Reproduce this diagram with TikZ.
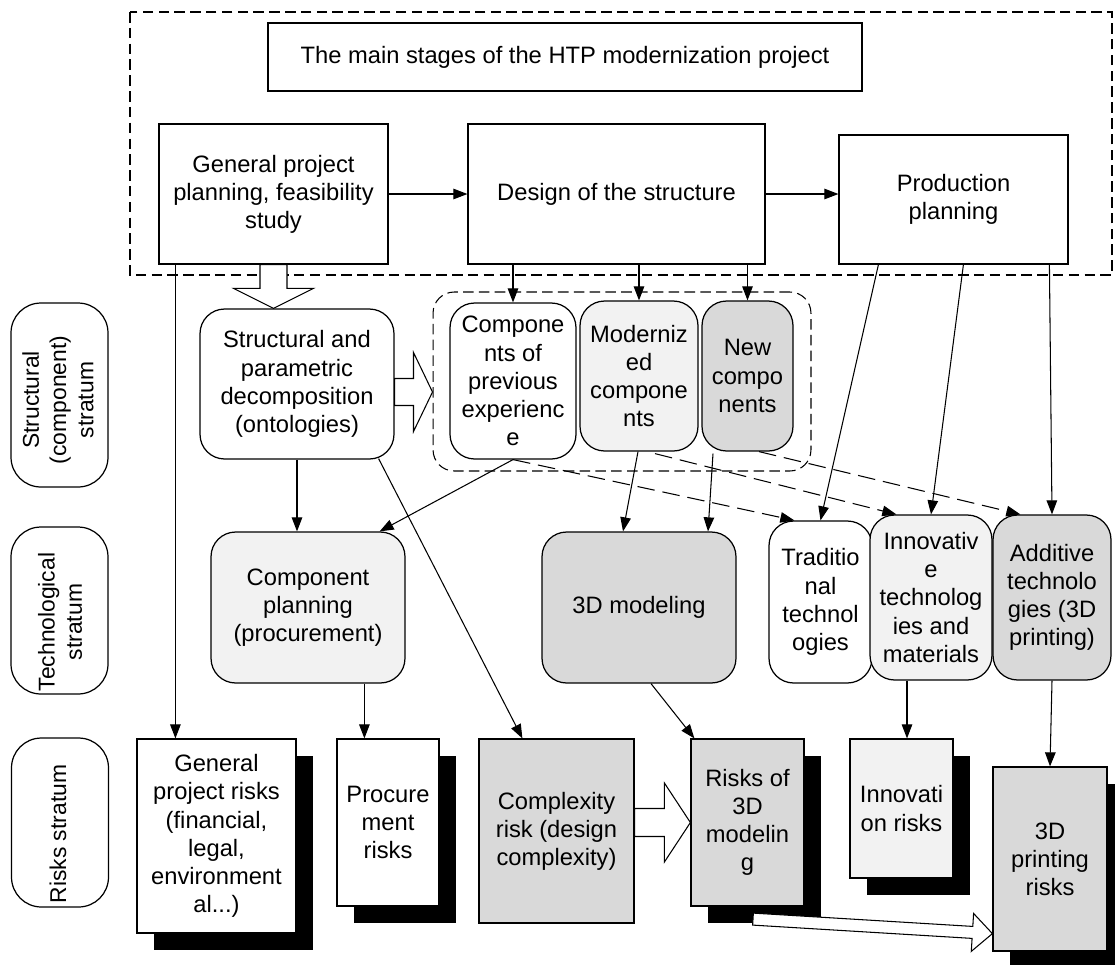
\documentclass[tikz,border=0pt]{standalone}
\usepackage{fontspec}
\setmainfont{Liberation Sans}
\usetikzlibrary{arrows.meta,calc,shadows}
\definecolor{lightbox}{HTML}{F2F2F2}
\definecolor{darkbox}{HTML}{D9D9D9}
\newcommand\hollowarrow[5]{%
	\path ($(#2)!#5!(#1)$) coordinate (hbase);
	\draw[fill=white, line width=0.6pt, line join=miter]
		($(#1)!#3!90:(#2)$) -- ($(hbase)!#3!90:(#2)$) -- ($(hbase)!#4!90:(#2)$) -- (#2)
		-- ($(hbase)!#4!-90:(#2)$) -- ($(hbase)!#3!-90:(#2)$) -- ($(#1)!#3!-90:(#2)$) -- cycle;}

\begin{document}
\begin{tikzpicture}[x=0.02cm, y=-0.02cm,
		every node/.style={font=\fontsize{13.5}{16}\selectfont, inner sep=0pt, align=center},
		stage/.style={draw, line width=0.7pt, rectangle, fill=white},
		part/.style={draw, line width=0.7pt, rounded corners=14pt, fill=white},
		risk/.style={draw, line width=0.7pt, rectangle},
		riskshadow/.style={drop shadow={shadow xshift=0.34cm, shadow yshift=-0.34cm, fill=black, opacity=1}},
		stratum/.style={draw, line width=0.7pt, rounded corners=17pt, minimum width=1.94cm},
		stratumtext/.style={rotate=90, font=\fontsize{13}{15.5}\selectfont},
		arr/.style={-{Triangle[length=8pt,width=6pt]}, line width=0.6pt},
		dasharr/.style={arr, dash pattern=on 10pt off 4.5pt},
		frame/.style={line width=0.7pt, dash pattern=on 6pt off 3pt}]
		%%%%% START %%%%%
		\useasboundingbox (0,0) rectangle (1115,964);
		
		\draw[frame] (130,12) rectangle (1112,275);
		\node[stage, minimum width=11.88cm, minimum height=1.36cm] (title) at (565,57) {The main stages of the HTP modernization project};
		\node[stage, minimum width=4.58cm, minimum height=2.8cm] (plan) at (273.5,194) {General project\\planning, feasibility\\study};
		\node[stage, minimum width=5.94cm, minimum height=2.8cm] (design) at (616.5,194) {Design of the structure};
		\node[stage, minimum width=4.58cm, minimum height=2.58cm] (prod) at (953.5,199.5) {Production\\planning};
		
		\draw[arr] (plan) -- (design);
		\draw[arr] (design.east) -- (design.east -| prod.west);
		
		\node[stratum, minimum height=3.68cm] (s1) at (59.5,395) {};
		\node[stratumtext] (s1text) at (58,400) {Structural\\(component)\\stratum};
		\node[stratum, minimum height=3.34cm] (s2) at (59.5,610.5) {};
		\node[stratumtext] (s2text) at (60,622) {Technological\\stratum};
		\node[stratum, minimum height=3.38cm] (s3) at (60,822.5) {};
		\node[stratumtext] (s3text) at (58,834) {Risks stratum};
		
		% structural stratum
		\node[part, minimum width=3.88cm, minimum height=3cm] (spd) at (297,384) {Structural and\\parametric\\decomposition\\(ontologies)};
		\node[draw, line width=0.6pt, rounded corners=12pt, dash pattern=on 6pt off 3pt, minimum width=7.56cm, minimum height=3.58cm] (grp) at (622,381.5) {};
		\node[part, minimum width=2.52cm, minimum height=3.12cm] (cpe) at (513,381) {Compone\\nts of\\previous\\experienc\\e};
		\node[part, fill=lightbox, minimum width=2.36cm, minimum height=3cm] (modc) at (639,376) {Moderniz\\ed\\compone\\nts};
		\node[part, fill=darkbox, minimum width=1.82cm, minimum height=3cm] (newc) at (747.5,376) {New\\compo\\nents};
		
		% technological stratum
		\node[part, fill=lightbox, minimum width=3.88cm, minimum height=3.02cm] (comp) at (308,607.5) {Component\\planning\\(procurement)};
		\node[part, fill=darkbox, minimum width=3.88cm, minimum height=3.02cm] (model) at (639,607.5) {3D modeling};
		\node[part, minimum width=2.06cm, minimum height=3.24cm] (trad) at (820.5,602) {Traditio\\nal\\technol\\ogies};
		\node[part, fill=lightbox, minimum width=2.44cm, minimum height=3.3cm] (innov) at (931,597.5) {Innovativ\\e\\technolog\\ies and\\materials};
		\node[part, fill=darkbox, minimum width=2.36cm, minimum height=3.3cm] (addit) at (1052,597.5) {Additive\\technolo\\gies (3D\\printing)};
		
		% risks stratum
		\node[risk, fill=white, riskshadow, minimum width=3.18cm, minimum height=3.88cm] (genr) at (216.5,836) {General\\project risks\\(financial,\\legal,\\environment\\al...)};
		\node[risk, fill=white, riskshadow, minimum width=2.04cm, minimum height=3.34cm] (procr) at (388,822.5) {Procure\\ment\\risks};
		\node[risk, fill=darkbox, minimum width=3.1cm, minimum height=3.68cm] (cplx) at (556.5,831) {Complexity\\risk (design\\complexity)};
		\node[risk, fill=darkbox, riskshadow, minimum width=2.26cm, minimum height=3.34cm] (r3d) at (747.5,822.5) {Risks of\\3D\\modelin\\g};
		\node[risk, fill=lightbox, riskshadow, minimum width=2.06cm, minimum height=2.78cm] (innr) at (901.5,808.5) {Innovati\\on risks};
		\node[risk, fill=darkbox, riskshadow, minimum width=2.28cm, minimum height=3.68cm] (r3dp) at (1050,859) {3D\\printing\\risks};
		
		% connectors
		\coordinate (planleg) at ($(plan.south west)+(17,0)$);
		\draw[arr] (planleg) -- (planleg |- genr.north);
		
		\draw[arr] (cpe.north |- design.south) -- (cpe.north);
		\draw[arr] (modc.north |- design.south) -- (modc.north);
		\draw[arr] (newc.north |- design.south) -- (newc.north);
		
		\draw[arr] ($(prod.south west)+(40,0)$) -- (trad.north);
		\draw[arr] ($(prod.south west)+(125,0)$) -- (innov.north);
		\draw[arr] ($(prod.south west)+(211,0)$) -- (addit.north);
		
		\draw[arr] (spd.south) -- (spd.south |- comp.north);
		\draw[arr] (cpe.south) -- ($(comp.north east)+(-26,0)$);
		\draw[arr] ($(spd.south east)+(-16,-1)$) -- ($(cplx.north west)+(44,0)$);
		\draw[arr] ($(modc.south)+(-1,0)$) -- ($(model.north)+(-16,0)$);
		\draw[arr] ($(newc.south)+(-34.5,2)$) -- ($(model.north)+(69,0)$);
		
		\draw[dasharr] (cpe.south) -- ($(trad.north west)+(26,0)$);
		\draw[dasharr] ($(modc.south)+(16,2)$) -- ($(innov.north west)+(27,0)$);
		\draw[dasharr] ($(newc.south)+(11.5,0)$) -- ($(addit.north west)+(28,0)$);
		
		\coordinate (compleg) at ($(procr.north west)+(28,0)$);
		\draw[arr] (compleg |- comp.south) -- (compleg);
		\draw[arr] ($(model.south)+(12,0)$) -- ($(r3d.north west)+(4,0)$);
		\coordinate (innovleg) at ($(innov.south)+(-24,0)$);
		\draw[arr] (innovleg) -- (innovleg |- innr.north);
		\draw[arr] (addit.south) -- (r3dp.north);
		
		% hollow arrows
		\coordinate (decotip) at (plan.south |- spd.north);
		\hollowarrow{plan.south}{decotip}{0.27cm}{0.8cm}{0.4cm}
		\coordinate (ontostart) at ($(spd.east)+(0,8)$);
		\coordinate (ontotip) at (ontostart -| grp.west);
		\hollowarrow{ontostart}{ontotip}{0.27cm}{0.79cm}{0.38cm}
		\coordinate (cplxstart) at (cplx.east |- r3d.west);
		\hollowarrow{cplxstart}{r3d.west}{0.28cm}{0.79cm}{0.52cm}
		\coordinate (printstart) at ($(r3d.south)+(5.5,12.5)$);
		\coordinate (printtip) at ($(r3dp.south west)+(0,-18)$);
		\hollowarrow{printstart}{printtip}{0.12cm}{0.38cm}{0.4cm}
		
		%%%%% END %%%%%
\end{tikzpicture}
\end{document}
